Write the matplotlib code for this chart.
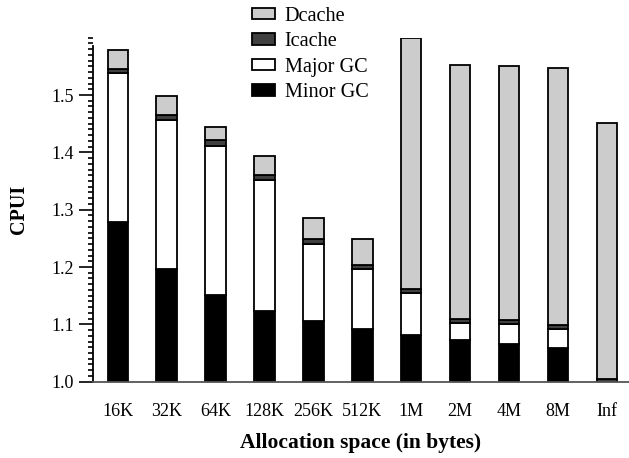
import numpy as np
import matplotlib
matplotlib.use('Agg')
import matplotlib.pyplot as plt
from matplotlib.ticker import MultipleLocator

plt.rcParams['font.family'] = ['Liberation Serif', 'DejaVu Serif']

# CPUI breakdown per allocation space size (stacked on top of a base of 1.0)
sizes = ['16K', '32K', '64K', '128K', '256K', '512K', '1M', '2M', '4M', '8M', 'Inf']
base = 1.0
minor_gc = [0.279, 0.197, 0.151, 0.124, 0.105, 0.092, 0.081, 0.073, 0.066, 0.058, 0.0]
major_gc = [0.259, 0.259, 0.260, 0.228, 0.136, 0.105, 0.074, 0.030, 0.035, 0.034, 0.0]
icache = [0.007, 0.010, 0.010, 0.009, 0.008, 0.007, 0.007, 0.007, 0.007, 0.007, 0.004]
dcache = [0.034, 0.032, 0.024, 0.033, 0.036, 0.045, 0.438, 0.442, 0.443, 0.449, 0.448]

fig = plt.figure(figsize=(6.29, 4.58), dpi=100)
ax = fig.add_axes([0.1479, 0.1666, 0.8521, 0.7511])

x = np.arange(len(sizes))
w = 0.42
bottom = np.full(len(sizes), base)
series = [
    ('Minor GC', minor_gc, 'black'),
    ('Major GC', major_gc, 'white'),
    ('Icache', icache, '#404040'),
    ('Dcache', dcache, '#cccccc'),
]
handles = {}
for name, vals, color in series:
    vals = np.array(vals)
    b = ax.bar(x, vals, w, bottom=bottom, color=color, edgecolor='black',
               linewidth=1.3, label=name)
    handles[name] = b
    bottom = bottom + vals

ax.set_xlim(-0.507, 10.454)
ax.set_ylim(1.0, 1.6)
ax.set_xticks(x)
ax.set_xticklabels(sizes, fontsize=13)
ax.tick_params(axis='x', length=0, pad=15)
ax.yaxis.set_minor_locator(MultipleLocator(0.01))
ax.set_yticks(np.arange(1.0, 1.51, 0.1))
ax.set_yticklabels(['1.0', '1.1', '1.2', '1.3', '1.4', '1.5'], fontsize=13)
ax.tick_params(axis='y', which='major', direction='out', length=10, width=1.2, pad=4)
ax.tick_params(axis='y', which='minor', direction='out', length=3.6, width=1.2)

for s in ['top', 'right']:
    ax.spines[s].set_visible(False)
ax.spines['left'].set_bounds(1.0, 1.585)
ax.spines['left'].set_linewidth(1.3)
ax.spines['bottom'].set_color('#555555')
ax.spines['bottom'].set_linewidth(1.3)

ax.set_xlabel('Allocation space (in bytes)', fontsize=15.5, fontweight='bold', labelpad=10)
ax.set_ylabel('CPUI', fontsize=14.5, fontweight='bold', labelpad=16)

order = ['Dcache', 'Icache', 'Major GC', 'Minor GC']
fig.legend([handles[n] for n in order], order, loc='upper left',
           bbox_to_anchor=(0.398, 0.99), frameon=False, fontsize=14.6,
           handlelength=1.1, handleheight=0.5, handletextpad=0.5,
           labelspacing=0.32, borderaxespad=0, borderpad=0.1)

fig.savefig('out.png', dpi=100)
